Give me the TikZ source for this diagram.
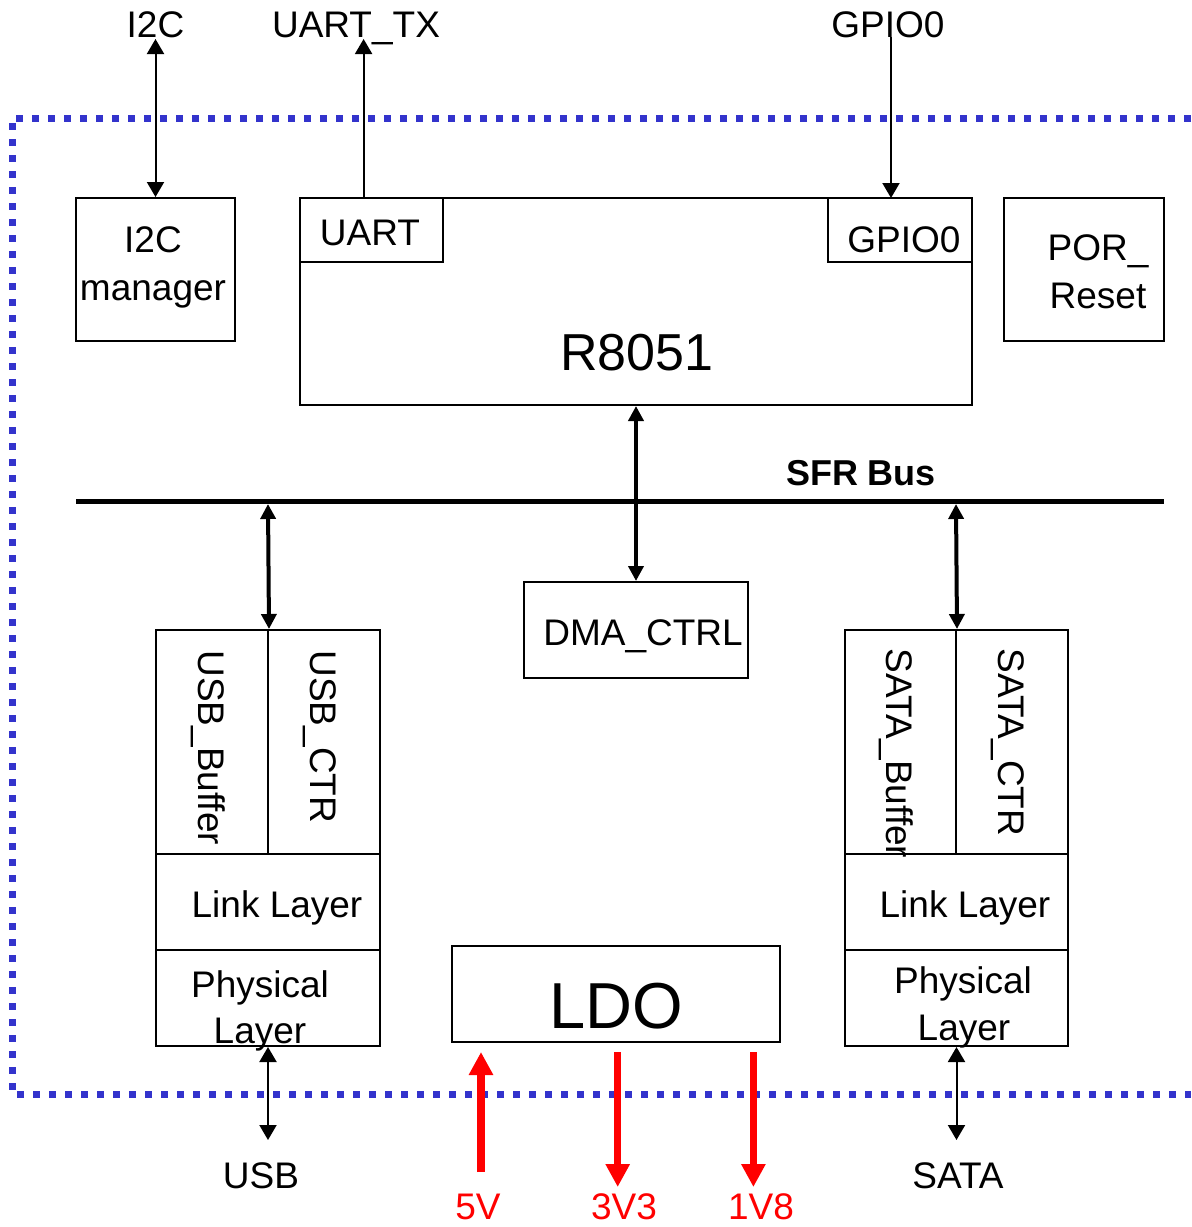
\documentclass[tikz,border=0pt]{standalone}
\usepackage{fontspec}
\setmainfont{Liberation Sans}
\usetikzlibrary{arrows.meta}
\definecolor{dotblue}{RGB}{51,51,204}
\definecolor{pwrred}{RGB}{255,0,0}
\begin{document}
\begin{tikzpicture}[x=0.5pt,y=-0.5pt,
  box/.style={draw=black,line width=1pt,inner sep=0pt,rectangle},
  txt/.style={inner sep=0pt,anchor=base,font=\fontsize{18.5}{22}\selectfont},
  bigtxt/.style={inner sep=0pt,anchor=base,font=\fontsize{26}{30}\selectfont},
  ldotxt/.style={inner sep=0pt,anchor=base,font=\fontsize{32.5}{38}\selectfont},
  redtxt/.style={txt,text=pwrred},
  vtxt/.style={txt,rotate=-90,anchor=base west},
  thinarrow/.style={line width=1pt,{Triangle[width=8.5pt,length=7.5pt]}-{Triangle[width=8.5pt,length=7.5pt]}},
  thinarrowend/.style={line width=1pt,-{Triangle[width=8.5pt,length=7.5pt]}},
  thickarrow/.style={line width=2pt,{Triangle[width=7.5pt,length=7.5pt]}-{Triangle[width=7.5pt,length=7.5pt]}},
  redarrow/.style={draw=pwrred,line width=3.75pt,-{Triangle[width=11.5pt,length=11.5pt]}},
  border/.style={draw=dotblue,line width=3.5pt,dash pattern=on 3.5pt off 4.5pt},
  busline/.style={line width=2.75pt}
]
\useasboundingbox (0,0) rectangle (1191,1227);

% dotted chip border
\draw[border] (1191,118) -- (12,118) -- (12,1094) -- (1191,1094);

% boxes
\node[box,minimum width=79.5pt,minimum height=71.5pt] (i2cm) at (155.5,269.5) {};
\node[box,minimum width=336pt,minimum height=103.5pt] (cpu) at (636,301.5) {};
\node[box,minimum width=71.5pt,minimum height=32pt] (uart) at (371.5,230) {};
\node[box,minimum width=72pt,minimum height=32pt] (gpio) at (900,230) {};
\node[box,minimum width=80pt,minimum height=71.5pt] (por) at (1084,269.5) {};
\node[box,minimum width=112pt,minimum height=48pt] (dma) at (636,630) {};
\node[box,minimum width=56pt,minimum height=112pt] (usbbuf) at (212,742) {};
\node[box,minimum width=56pt,minimum height=112pt] (usbctr) at (324,742) {};
\node[box,minimum width=112pt,minimum height=48pt] (usblink) at (268,902) {};
\node[box,minimum width=112pt,minimum height=48pt] (usbphy) at (268,998) {};
\node[box,minimum width=55.5pt,minimum height=112pt] (satabuf) at (900.5,742) {};
\node[box,minimum width=56pt,minimum height=112pt] (satactr) at (1012,742) {};
\node[box,minimum width=111.5pt,minimum height=48pt] (satalink) at (956.5,902) {};
\node[box,minimum width=111.5pt,minimum height=48pt] (sataphy) at (956.5,998) {};
\node[box,minimum width=164pt,minimum height=48pt] (ldo) at (616,994) {};

% texts
\node[txt] (li2c) at (155.5,37) {I2C};
\node[txt] (luarttx) at (356,37) {UART\_TX};
\node[txt] (lgpio) at (888,37) {GPIO0};
\node[txt] (ti2ca) at (153,252) {I2C};
\node[txt] (ti2cb) at (153,300) {manager};
\node[txt] (tuart) at (370,245) {UART};
\node[txt] (tgpio) at (904,252) {GPIO0};
\node[txt] (tpora) at (1098,260) {POR\_};
\node[txt] (tporb) at (1098,308) {Reset};
\node[bigtxt] (tcpu) at (637,370) {R8051};
\node[txt,font=\fontsize{18}{22}\selectfont\bfseries] (tsfr) at (861,485) {SFR Bus};
\node[txt] (tdma) at (643,645) {DMA\_CTRL};
\node[vtxt] (tusbbuf) at (198,650) {USB\_Buffer};
\node[vtxt] (tusbctr) at (310,650) {USB\_CTR};
\node[txt] (tusblink) at (277,917) {Link Layer};
\node[txt] (tusbphya) at (260,997) {Physical};
\node[txt] (tusbphyb) at (260,1043) {Layer};
\node[vtxt] (tsatabuf) at (886,648) {SATA\_Buffer};
\node[vtxt] (tsatactr) at (998,648) {SATA\_CTR};
\node[txt] (tsatalink) at (965,917) {Link Layer};
\node[txt] (tsataphya) at (963,993) {Physical};
\node[txt] (tsataphyb) at (964,1040) {Layer};
\node[ldotxt] (tldo) at (616,1028) {LDO};
\node[txt] (lusb) at (261,1188) {USB};
\node[txt] (lsata) at (958,1188) {SATA};
\node[redtxt] (l5v) at (478,1219) {5V};
\node[redtxt] (l3v3) at (624,1219) {3V3};
\node[redtxt] (l1v8) at (761,1219) {1V8};

% coordinates for free ends
\coordinate (i2ctop) at (155.5,39);
\coordinate (uarttop) at (363.6,39);
\coordinate (gpiotop) at (891,37);
\coordinate (uartbot) at (363.6,198);
\coordinate (gpiobot) at (891,198);
\coordinate (busL) at (76,501.5);
\coordinate (busR) at (1164,501.5);
\coordinate (bususb) at (268,504);
\coordinate (bussata) at (956,504);
\coordinate (usbend) at (268,1140);
\coordinate (sataend) at (956.5,1140);
\coordinate (p5a) at (481,1172);
\coordinate (p5b) at (481,1052);
\coordinate (p3a) at (617.7,1052);
\coordinate (p3b) at (617.7,1187);
\coordinate (p1a) at (753.4,1052);
\coordinate (p1b) at (753.4,1187);

% SFR bus
\draw[busline] (busL) -- (busR);

% connectors
\draw[thinarrow] (i2ctop) -- (i2cm.north);
\draw[thinarrowend] (uartbot) -- (uarttop);
\draw[thinarrowend] (gpiotop) -- (gpiobot);
\draw[thickarrow] (cpu.south) -- (dma.north);
\draw[thickarrow] (bususb) -- (usbbuf.north east);
\draw[thickarrow] (bussata) -- (satabuf.north east);
\draw[thinarrow] (usbphy.south) -- (usbend);
\draw[thinarrow] (sataphy.south) -- (sataend);
\draw[redarrow] (p5a) -- (p5b);
\draw[redarrow] (p3a) -- (p3b);
\draw[redarrow] (p1a) -- (p1b);
\end{tikzpicture}
\end{document}
